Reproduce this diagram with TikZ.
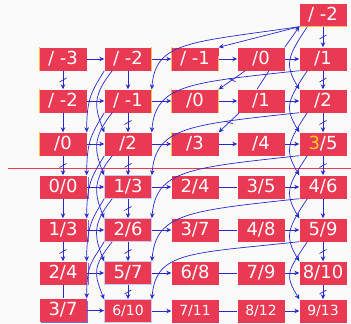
\documentclass[tikz,border=0pt]{standalone}
\usepackage{fontspec}
\setmainfont{DejaVu Sans}
\usepackage{tikz}
\usetikzlibrary{arrows.meta, decorations.markings}
\definecolor{cellred}{RGB}{234, 57, 82}
\definecolor{linkblue}{RGB}{40, 40, 205}
\definecolor{markorange}{RGB}{250, 190, 80}
\definecolor{digityellow}{RGB}{255, 205, 40}
\definecolor{rimviolet}{RGB}{110, 110, 235}

\begin{document}
\begin{tikzpicture}[
    x=1pt, y=-1pt,
    cell/.style={rectangle, fill=cellred, text=white, minimum width=47pt, minimum height=23pt, inner sep=0pt, font=\fontsize{18}{18}\selectfont},
    small/.style={cell, font=\fontsize{14}{14}\selectfont},
    rim/.style={draw=rimviolet!35, line width=0.8pt},
    arrow/.style={-{Stealth[length=5pt,width=4.5pt]}, line width=0.7pt, linkblue},
    link/.style={line width=0.7pt, linkblue},
    ticked/.style={postaction={decorate}, decoration={markings, mark=at position 0.5 with {\draw[linkblue, line width=0.7pt, -] (2pt,-3.5pt) -- (-2pt,3.5pt);}}},
    bar/.style={markorange, line width=1.5pt},
    bluebar/.style={rimviolet, line width=1.5pt}
]
\fill[white!98!black] (0,0) rectangle (351,324);
\useasboundingbox (0,0) rectangle (351,324);

% Separator
\draw[cellred, line width=1pt] (8,168) -- (351,168);

% Top cell
\node[cell] (top) at (323,15) {/ -2};

% Row 1
\node[cell] (r1c0) at (63,59) {/ -3};
\node[cell] (r1c1) at (128,59) {/ -2};
\node[cell] (r1c2) at (195,59) {/ -1};
\node[cell] (r1c3) at (261,59) {/0};
\node[cell] (r1c4) at (323,59) {/1};

% Row 2
\node[cell] (r2c0) at (63,101) {/ -2};
\node[cell] (r2c1) at (128,101) {/ -1};
\node[cell] (r2c2) at (195,101) {/0};
\node[cell] (r2c3) at (261,101) {/1};
\node[cell] (r2c4) at (323,101) {/2};

% Row 3
\node[cell] (r3c0) at (63,144) {/0};
\node[cell] (r3c1) at (128,144) {/2};
\node[cell] (r3c2) at (195,144) {/3};
\node[cell] (r3c3) at (261,144) {/4};
\node[cell] (r3c4) at (323,144) {{\color{digityellow}3}/5};

% Row 4
\node[cell] (r4c0) at (63,187) {0/0};
\node[cell, rim] (r4c1) at (128,187) {1/3};
\node[cell] (r4c2) at (195,187) {2/4};
\node[cell] (r4c3) at (261,187) {3/5};
\node[cell] (r4c4) at (323,187) {4/6};

% Row 5
\node[cell] (r5c0) at (63,230) {1/3};
\node[cell, rim] (r5c1) at (128,230) {2/6};
\node[cell] (r5c2) at (195,230) {3/7};
\node[cell] (r5c3) at (261,230) {4/8};
\node[cell] (r5c4) at (323,230) {5/9};

% Row 6
\node[cell] (r6c0) at (63,273) {2/4};
\node[cell, rim] (r6c1) at (128,273) {5/7};
\node[cell] (r6c2) at (195,273) {6/8};
\node[cell] (r6c3) at (261,273) {7/9};
\node[cell] (r6c4) at (323,273) {8/10};

% Row 7
\node[cell] (r7c0) at (63,310) {3/7};
\node[small, rim] (r7c1) at (128,311) {6/10};
\node[small] (r7c2) at (195,311) {7/11};
\node[small] (r7c3) at (261,311) {8/12};
\node[small] (r7c4) at (323,311) {9/13};

% Side marks
\draw[bar] (top.south west) -- (top.south east);
\draw[bar] (r1c0.north west) -- (r1c0.south west);
\draw[bar] (r1c1.north east) -- (r1c1.south east);
\draw[bar] (r1c2.north west) -- (r1c2.south west);
\draw[bar] ([yshift=-9pt]r1c2.north east) -- (r1c2.south east);
\draw[bar] (r2c0.north west) -- (r2c0.south west);
\draw[bar] (r2c1.north east) -- (r2c1.south east);
\draw[bar] (r2c2.north west) -- (r2c2.south west);
\draw[bar] (r2c2.north east) -- (r2c2.south east);
\draw[bar] (r3c0.north west) -- (r3c0.south west);
\draw[bar] (r3c2.north west) -- (r3c2.south west);
\draw[bluebar] ([xshift=2pt,yshift=-2pt]r4c0.north east) -- ([xshift=2pt]r4c0.south east);
\draw[bluebar] ([xshift=2pt,yshift=-2pt]r5c0.north east) -- ([xshift=2pt]r5c0.south east);
\draw[bluebar] ([xshift=2pt,yshift=-2pt]r6c0.north east) -- ([xshift=2pt]r6c0.south east);
\draw[bluebar] ([xshift=2pt,yshift=-1pt]r7c0.south west) -| ([xshift=1pt,yshift=-3pt]r7c0.north east);

% Vertical links
\draw[arrow, ticked] (top) -- (r1c4);
\draw[arrow, ticked] (r1c0) -- (r2c0);
\draw[arrow] (r2c0) -- (r3c0);
\draw[arrow, ticked] (r3c0) -- (r4c0);
\draw[arrow] (r4c0) -- (r5c0);
\draw[arrow, ticked] (r5c0) -- (r6c0);
\draw[link] (r6c0) -- (r7c0);
\draw[arrow] (r1c1) -- (r2c1);
\draw[arrow, ticked] (r2c1) -- (r3c1);
\draw[arrow, ticked] (r3c1) -- (r4c1);
\draw[arrow, ticked] (r4c1) -- (r5c1);
\draw[arrow, ticked] (r5c1) -- (r6c1);
\draw[arrow, ticked] (r6c1) -- (r7c1);
\draw[arrow, ticked] (r1c4) -- (r2c4);
\draw[arrow, ticked] (r2c4) -- (r3c4);
\draw[arrow, ticked] (r3c4) -- (r4c4);
\draw[arrow] (r4c4) -- (r5c4);
\draw[arrow, ticked] (r5c4) -- (r6c4);
\draw[arrow, ticked] (r6c4) -- (r7c4);

% Horizontal links
\draw[arrow] (r1c0) -- (r1c1);
\draw[arrow] (r1c1) -- (r1c2);
\draw[arrow] (r1c2) -- (r1c3);
\draw[arrow] (r1c3) -- (r1c4);
\draw[arrow] (r2c0) -- (r2c1);
\draw[arrow] (r2c1) -- (r2c2);
\draw[arrow] (r2c2) -- (r2c3);
\draw[arrow] (r2c3) -- (r2c4);
\draw[arrow] (r3c0) -- (r3c1);
\draw[arrow] (r3c1) -- (r3c2);
\draw[arrow] (r3c2) -- (r3c3);
\draw[arrow] (r3c3) -- (r3c4);
\draw[arrow] (r4c0) -- (r4c1);
\draw[arrow] (r4c1) -- (r4c2);
\draw[link] (r4c2) -- (r4c3);
\draw[arrow] (r4c3) -- (r4c4);
\draw[arrow] (r5c0) -- (r5c1);
\draw[arrow] (r5c1) -- (r5c2);
\draw[link] (r5c2) -- (r5c3);
\draw[arrow] (r5c3) -- (r5c4);
\draw[arrow] (r6c0) -- (r6c1);
\draw[arrow] (r6c1) -- (r6c2);
\draw[link] (r6c2) -- (r6c3);
\draw[arrow] (r6c3) -- (r6c4);
\draw[arrow] (r7c0) -- (r7c1);
\draw[arrow] (r7c1) -- (r7c2);
\draw[link] (r7c2) -- (r7c3);
\draw[arrow] (r7c3) -- (r7c4);

% Diagonal links
\draw[arrow] (top.south west) -- (r1c2.north east);
\draw[arrow] (r1c3.north east) -- (top.south west);
\draw[arrow, ticked] ([xshift=8pt]r1c3.south west) -- (r2c2.north east);
\draw[link] ([xshift=8pt]r1c3.south) -- ([xshift=-4pt]r2c3.north);
\draw[arrow, ticked] ([xshift=2pt]r2c3.south west) -- (r3c2.north east);

% Long links back to column 1
\draw[arrow] (top.south west) .. controls +(-110,16) and +(4,-48) .. (r2c1.north east);
\draw[arrow] (r1c4.south west) .. controls +(-110,12) and +(4,-48) .. (r3c1.north east);
\draw[arrow] (r2c4.south west) .. controls +(-110,12) and +(4,-48) .. (r4c1.north east);
\draw[arrow] (r3c4.south west) .. controls +(-110,12) and +(4,-48) .. (r5c1.north east);
\draw[arrow] (r4c4.south west) .. controls +(-110,12) and +(4,-48) .. (r6c1.north east);
\draw[arrow] (r5c4.south west) .. controls +(-110,12) and +(4,-48) .. (r7c1.north east);

% Loops down column 4
\draw[arrow] ([xshift=8pt]top.south west) .. controls +(-20,30) and +(-15,-25) .. (r2c4.north west);
\draw[arrow] ([xshift=8pt]r1c4.south west) .. controls +(-20,30) and +(-15,-25) .. (r3c4.north west);
\draw[arrow] ([xshift=8pt]r2c4.south west) .. controls +(-20,30) and +(-15,-25) .. (r4c4.north west);
\draw[arrow] ([xshift=8pt]r3c4.south west) .. controls +(-20,30) and +(-15,-25) .. (r5c4.north west);
\draw[arrow] ([xshift=8pt]r4c4.south west) .. controls +(-20,30) and +(-15,-25) .. (r6c4.north west);
\draw[arrow] ([xshift=8pt]r5c4.south west) .. controls +(-20,30) and +(-15,-25) .. (r7c4.north west);

% Loops down columns 0 and 1
\draw[arrow] (r1c1.south west) .. controls +(-12,20) and +(0,-35) .. (r3c0.north east);
\draw[arrow] (r2c1.south west) .. controls +(-12,20) and +(0,-35) .. (r4c0.north east);
\draw[arrow] (r3c1.south west) .. controls +(-12,20) and +(0,-35) .. (r5c0.north east);
\draw[arrow] (r4c1.south west) .. controls +(-12,20) and +(0,-35) .. (r6c0.north east);
\draw[arrow] (r5c1.south west) .. controls +(-12,20) and +(0,-35) .. (r7c0.north east);
\draw[arrow] ([xshift=8pt]r1c1.south west) .. controls +(-20,25) and +(-10,-25) .. (r3c1.north west);
\draw[arrow] ([xshift=8pt]r2c1.south west) .. controls +(-20,25) and +(-10,-25) .. (r4c1.north west);
\draw[arrow] ([xshift=8pt]r3c1.south west) .. controls +(-20,25) and +(-10,-25) .. (r5c1.north west);
\draw[arrow] ([xshift=8pt]r4c1.south west) .. controls +(-20,25) and +(-10,-25) .. (r6c1.north west);
\draw[arrow] ([xshift=8pt]r5c1.south west) .. controls +(-20,25) and +(-10,-25) .. (r7c1.north west);
\end{tikzpicture}
\end{document}
